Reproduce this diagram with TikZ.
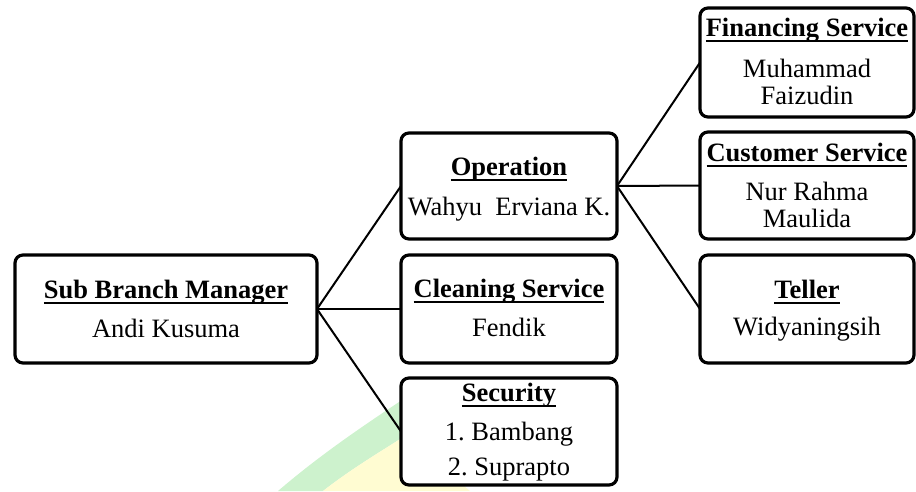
\documentclass[tikz,border=0pt]{standalone}
\usepackage{fontspec}
\setmainfont{Liberation Serif}
\frenchspacing
\newcommand\hdr[1]{\setbox0\hbox{\bfseries #1}\rlap{\rule[-5.7pt]{\wd0}{2.2pt}}\box0}
\definecolor{wmgreen}{HTML}{CDF2CD}
\definecolor{wmyellow}{HTML}{FFFCD2}
\begin{document}
\begin{tikzpicture}[x=1pt,y=-1pt,
  box/.style={draw, line width=3.2pt, rounded corners=8pt, fill=white, inner sep=0pt, outer sep=0pt},
  conn/.style={line width=2pt},
  txt/.style={anchor=base, inner sep=0pt, font=\fontsize{26.5}{30}\selectfont}]
\useasboundingbox (0,0) rectangle (916,491);
% watermark
\fill[wmgreen] (278,491) .. controls (320,455) and (360,428) .. (405,398) -- (405,436) .. controls (375,455) and (350,470) .. (323,491) -- cycle;
\fill[wmyellow] (323,491) .. controls (350,470) and (375,455) .. (405,436) -- (470,491) -- cycle;
% boxes
\node[box, minimum width=302pt, minimum height=108pt] (sbm) at (166,309) {};
\node[box, minimum width=216pt, minimum height=106pt] (op) at (509,186) {};
\node[box, minimum width=216pt, minimum height=108pt] (cl) at (509,309) {};
\node[box, minimum width=216pt, minimum height=107pt] (sec) at (509,431.5) {};
\node[box, minimum width=214pt, minimum height=109pt] (fin) at (807,62.5) {};
\node[box, minimum width=214pt, minimum height=107pt] (cus) at (807,185.5) {};
\node[box, minimum width=214pt, minimum height=108pt] (tel) at (807,309) {};
% texts
\node[txt] (sbm1) at (166,298) {\hdr{Sub Branch Manager}};
\node[txt] (sbm2) at (166,337) {Andi Kusuma};
\node[txt] (op1) at (509,175) {\hdr{Operation}};
\node[txt] (op2) at (509,215) {Wahyu\ \ Erviana K.};
\node[txt] (cl1) at (509,297.5) {\hdr{Cleaning Service}};
\node[txt] (cl2) at (509,336.5) {Fendik};
\node[txt] (sec1) at (509,401.5) {\hdr{Security}};
\node[txt] (sec2) at (509,440) {1. Bambang};
\node[txt] (sec3) at (509,475.5) {2. Suprapto};
\node[txt] (fin1) at (807,36.5) {\hdr{Financing Service}};
\node[txt] (fin2) at (807,77) {Muhammad};
\node[txt] (fin3) at (807,104) {Faizudin};
\node[txt] (cus1) at (807,161) {\hdr{Customer Service}};
\node[txt] (cus2) at (807,200) {Nur Rahma};
\node[txt] (cus3) at (807,227) {Maulida};
\node[txt] (tel1) at (807,298) {\hdr{Teller}};
\node[txt] (tel2) at (807,335) {Widyaningsih};
% connectors
\draw[conn] (sbm.east) -- (op.west);
\draw[conn] (sbm.east) -- (cl.west);
\draw[conn] (sbm.east) -- (sec.west);
\draw[conn] (op.east) -- (fin.west);
\draw[conn] (op.east) -- (cus.west);
\draw[conn] (op.east) -- (tel.west);
\end{tikzpicture}
\end{document}
